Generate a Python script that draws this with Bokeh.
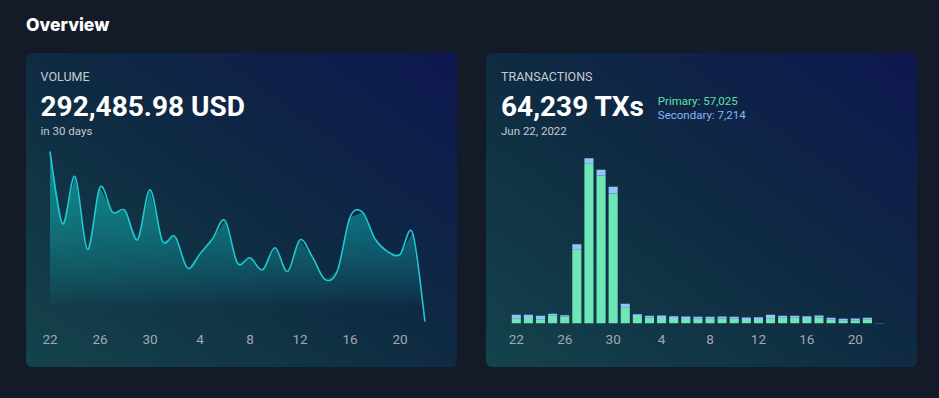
import numpy as np
import pandas as pd
from bokeh.plotting import figure
from bokeh.models import ColumnDataSource, Range1d, FixedTicker, Label, Div
from bokeh.layouts import row, column
from bokeh.embed import file_html
from bokeh.resources import INLINE

# ---------------------------------------------------------------- data
days = pd.date_range("2022-06-22", periods=31, freq="D")
day_labels = [str(d.day) for d in days]

# daily trading volume, USD
volume_usd = [18305, 10911, 15748, 8283, 14654, 12097, 12271, 9306, 14388, 9132,
              9612, 6371, 7843, 9377, 11249, 6882, 7434, 6207, 8457, 6033,
              9275, 7496, 5215, 6136, 11586, 12097, 9377, 8079, 7772, 9991,
              901.98]

# daily transactions split by market
tx_primary = [444, 455, 356, 656, 582, 6523, 14108, 13035, 11449, 1414,
              633, 480, 469, 370, 381, 391, 391, 418, 391, 293,
              282, 444, 480, 480, 456, 506, 303, 215, 254, 354,
              12]
tx_secondary = [297, 290, 297, 173, 124, 445, 445, 495, 581, 297,
                161, 173, 210, 247, 210, 173, 173, 173, 173, 210,
                247, 297, 173, 173, 161, 173, 173, 173, 161, 128,
                8]

# ---------------------------------------------------------------- style
PAGE_BG = "#131a28"
CARD_BG = ("linear-gradient(to top right, #14434c 0%, #0f2b42 50%, "
           "#0e1750 100%)")
LINE_C = "#20c8d2"
FILL_C = "#16bcc6"
GREEN = "#6ee7b7"
BLUE = "#93c5fd"
FONT = "Roboto"

CARD_W, CARD_H = 431, 314
CARD_TOP = 53                   # page offset of the cards
AXIS_H = 40                     # height of the tick-label strip
FRAME_H = CARD_H - AXIS_H

idx = np.arange(len(days))
ticks = list(range(0, len(days), 4))
overrides = {i: day_labels[i] for i in ticks}


def card(x_range, y_range):
    p = figure(width=CARD_W, height=CARD_H, x_range=x_range, y_range=y_range,
               output_backend="svg", toolbar_location=None,
               y_axis_location=None, min_border_left=0, min_border_right=0,
               min_border_top=0, min_border_bottom=AXIS_H,
               background_fill_alpha=0, border_fill_alpha=0,
               outline_line_color=None, margin=(0, 0, 0, 0),
               styles={"background": CARD_BG, "border-radius": "6px",
                       "overflow": "hidden"})
    p.xgrid.visible = False
    p.ygrid.visible = False
    ax = p.xaxis[0]
    ax.ticker = FixedTicker(ticks=ticks)
    ax.major_label_overrides = overrides
    ax.axis_line_color = None
    ax.major_tick_line_color = None
    ax.minor_tick_line_color = None
    ax.major_label_standoff = 1
    ax.major_label_text_font = FONT
    ax.major_label_text_font_size = "13.5px"
    ax.major_label_text_color = "#a0a8b4"
    return p


def add_text(p, x, page_y, text, size, color, bold=False):
    # page_y is the vertical centre of the text on the page
    p.add_layout(Label(x=x, y=FRAME_H - (page_y - CARD_TOP),
                       x_units="screen", y_units="screen", text=text,
                       text_font=FONT, text_font_size=size, text_color=color,
                       text_font_style="bold" if bold else "normal",
                       text_baseline="middle", text_align="left"))


# ---------------------------------------------------------------- volume card
usd_per_px = 102.26
vol_x = Range1d(-23.5 / 12.5, (CARD_W - 23.5) / 12.5)
vol_y = Range1d(3 * usd_per_px, (FRAME_H + 3) * usd_per_px)
p1 = card(vol_x, vol_y)

vol = np.asarray(volume_usd, dtype=float)


# gradient fill: stacked translucent slices of the area above rising levels
def area_above(xs, ys, level):
    polys, cur = [], []
    for i in range(len(xs)):
        if ys[i] >= level:
            if not cur:
                if i == 0:
                    cur.append((xs[0], level))
                else:
                    t = (level - ys[i - 1]) / (ys[i] - ys[i - 1])
                    cur.append((xs[i - 1] + t * (xs[i] - xs[i - 1]), level))
            cur.append((xs[i], ys[i]))
        elif cur:
            t = (level - ys[i - 1]) / (ys[i] - ys[i - 1])
            cur.append((xs[i - 1] + t * (xs[i] - xs[i - 1]), level))
            polys.append(cur)
            cur = []
    if cur:
        cur.append((xs[-1], level))
        polys.append(cur)
    return polys


fill_xs, fill_ys = [], []
for lvl in np.linspace(25 * usd_per_px, vol.max(), 32):
    for poly in area_above(idx.astype(float), vol, lvl):
        fill_xs.append([q[0] for q in poly])
        fill_ys.append([q[1] for q in poly])
p1.patches(fill_xs, fill_ys, fill_color=FILL_C, fill_alpha=0.035, line_color=None)

# smooth line: Catmull-Rom segments drawn as cubic Beziers
xp = np.concatenate([[idx[0]], idx, [idx[-1]]]).astype(float)
yp = np.concatenate([[vol[0]], vol, [vol[-1]]])
seg = ColumnDataSource(dict(
    x0=xp[1:-2], y0=yp[1:-2], x1=xp[2:-1], y1=yp[2:-1],
    cx0=xp[1:-2] + (xp[2:-1] - xp[:-3]) / 6, cy0=yp[1:-2] + (yp[2:-1] - yp[:-3]) / 6,
    cx1=xp[2:-1] - (xp[3:] - xp[1:-2]) / 6, cy1=yp[2:-1] - (yp[3:] - yp[1:-2]) / 6,
))
p1.bezier(x0="x0", y0="y0", x1="x1", y1="y1", cx0="cx0", cy0="cy0",
          cx1="cx1", cy1="cy1", source=seg, line_color=LINE_C, line_width=1.6)

add_text(p1, 14, 75.5, "VOLUME", "12.5px", "#c3cad6")
add_text(p1, 14, 105.5, f"{sum(volume_usd):,.2f} USD", "28px", "#ffffff", bold=True)
add_text(p1, 14, 130, "in 30 days", "11.5px", "#c3cad6")

# ---------------------------------------------------------------- transactions card
tx_per_px = 88.2
tx_x = Range1d(-29.8 / 12.107, (CARD_W - 29.8) / 12.107)
tx_y = Range1d(-4.3 * tx_per_px, (FRAME_H - 4.3) * tx_per_px)
p2 = card(tx_x, tx_y)

src = ColumnDataSource(dict(x=idx, primary=tx_primary, secondary=tx_secondary))
p2.vbar_stack(["primary", "secondary"], x="x", width=0.75, source=src,
              fill_color=[GREEN, BLUE], line_color=None)

total_tx = sum(tx_primary) + sum(tx_secondary)
add_text(p2, 14.5, 75.5, "TRANSACTIONS", "12.5px", "#c3cad6")
add_text(p2, 14.5, 105.5, f"{total_tx:,} TXs", "28px", "#ffffff", bold=True)
add_text(p2, 14.5, 130.5, days[0].strftime("%b %d, %Y"), "11.5px", "#c3cad6")
add_text(p2, 171.3, 100.5, f"Primary: {sum(tx_primary):,}", "11.5px", "#5fe0a6")
add_text(p2, 171.3, 114.5, f"Secondary: {sum(tx_secondary):,}", "11.5px", "#86b9f5")

# ---------------------------------------------------------------- page
title = Div(text=('<div style="font-family: Inter; font-weight: 800; font-size: 17.5px; '
                  'color: #ffffff; line-height: 20px; padding: 15px 0 0 26px;">Overview</div>'),
            width=939, height=CARD_TOP, margin=(0, 0, 0, 0))
cards = row(p1, p2, spacing=29, margin=(0, 0, 0, 26))
page = column(title, cards, width=939, height=398, spacing=0, margin=(0, 0, 0, 0),
              styles={"background-color": PAGE_BG})

open("out.html", "w").write(file_html(page, INLINE))
